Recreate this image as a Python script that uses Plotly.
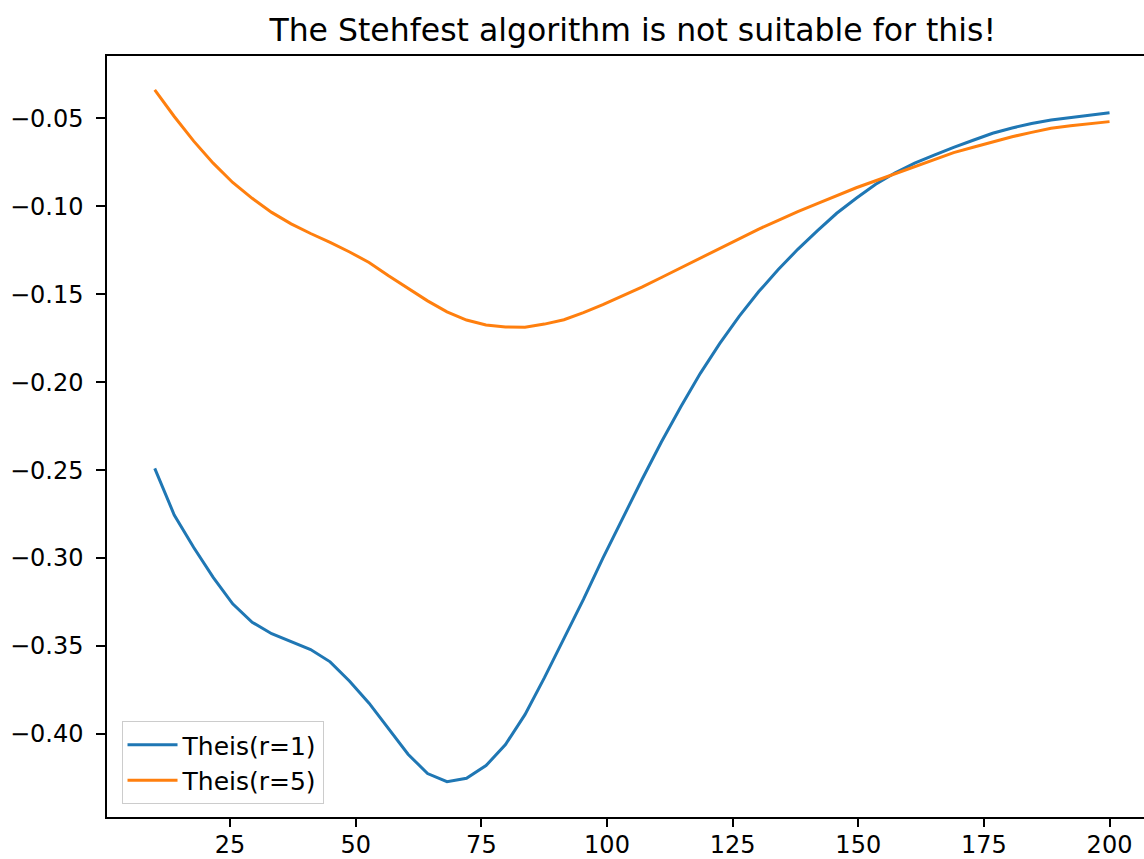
import plotly.graph_objects as go

# sample positions (time) and drawdown values
t = [10, 13.88, 17.76, 21.63, 25.51, 29.39, 33.27, 37.14, 41.02, 44.9,
     48.78, 52.65, 56.53, 60.41, 64.29, 68.16, 72.04, 75.92, 79.8, 83.67,
     87.55, 91.43, 95.31, 99.18, 103.06, 106.94, 110.82, 114.69, 118.57, 122.45,
     126.33, 130.2, 134.08, 137.96, 141.84, 145.71, 149.59, 153.47, 157.35, 161.22,
     165.1, 168.98, 172.86, 176.73, 180.61, 184.49, 188.37, 192.24, 196.12, 200]

theis_r1 = [-0.249, -0.2755, -0.294, -0.311, -0.326, -0.3365, -0.343, -0.3475, -0.352, -0.359,
            -0.370, -0.3825, -0.397, -0.4115, -0.4225, -0.4271, -0.4252, -0.418, -0.406, -0.389,
            -0.368, -0.346, -0.3235, -0.300, -0.2775, -0.2555, -0.234, -0.214, -0.195, -0.178,
            -0.1625, -0.1485, -0.136, -0.1245, -0.114, -0.104, -0.0955, -0.0875, -0.081, -0.0755,
            -0.071, -0.0665, -0.0625, -0.0585, -0.0555, -0.053, -0.051, -0.0495, -0.048, -0.0468]

theis_r5 = [-0.0339, -0.049, -0.063, -0.0755, -0.0865, -0.0955, -0.1035, -0.110, -0.1155, -0.1205,
            -0.126, -0.132, -0.1395, -0.1468, -0.1538, -0.160, -0.1647, -0.1675, -0.1687, -0.1688,
            -0.167, -0.1645, -0.1605, -0.156, -0.151, -0.146, -0.1405, -0.135, -0.1295, -0.124,
            -0.1185, -0.113, -0.108, -0.103, -0.0985, -0.094, -0.0895, -0.0855, -0.0815, -0.0775,
            -0.0735, -0.0695, -0.0665, -0.0635, -0.0605, -0.058, -0.0557, -0.0543, -0.0531, -0.0519]

x_ticks = [25, 50, 75, 100, 125, 150, 175, 200]
y_ticks = [-0.40, -0.35, -0.30, -0.25, -0.20, -0.15, -0.10, -0.05]

fig = go.Figure()
fig.add_trace(go.Scatter(x=t, y=theis_r1, mode='lines', name='Theis(r=1)',
                         line=dict(color='#1f77b4', width=3)))
fig.add_trace(go.Scatter(x=t, y=theis_r5, mode='lines', name='Theis(r=5)',
                         line=dict(color='#ff7f0e', width=3)))

axis_style = dict(showgrid=False, zeroline=False, showline=True, linecolor='black',
                  linewidth=1.5, ticks='outside', tickwidth=1.5,
                  tickcolor='black', tickfont=dict(size=24, color='black'),
                  automargin=False)

fig.update_layout(
    width=1144, height=859,
    margin=dict(l=107, r=0, t=56, b=42),
    paper_bgcolor='white', plot_bgcolor='white',
    font=dict(family='DejaVu Sans', color='black'),
    title=dict(text='The Stehfest algorithm is not suitable for this!',
               x=0.507, xref='paper', xanchor='center',
               y=1 - 30 / 859, yref='container', yanchor='middle',
               font=dict(size=31.5, color='black'), automargin=False),
    xaxis=dict(range=[0.5, 206.86], tickvals=x_ticks, mirror=True,
               ticklen=8, ticklabelstandoff=-3, **axis_style),
    yaxis=dict(range=[-0.4472, -0.0146], tickvals=y_ticks, tickformat='.2f',
               ticklen=9, ticklabelstandoff=8, **axis_style),
    legend=dict(x=0.014, y=0.017, xanchor='left', yanchor='bottom',
                bgcolor='rgba(255,255,255,0.8)', bordercolor='#cccccc', borderwidth=1,
                font=dict(size=25, color='black'), itemwidth=50),
    showlegend=True,
)

# drop the default page margin so the figure sits at the window's corner
fig.write_html("out.html", config={'displayModeBar': False},
               post_script="document.body.style.margin='0';")
